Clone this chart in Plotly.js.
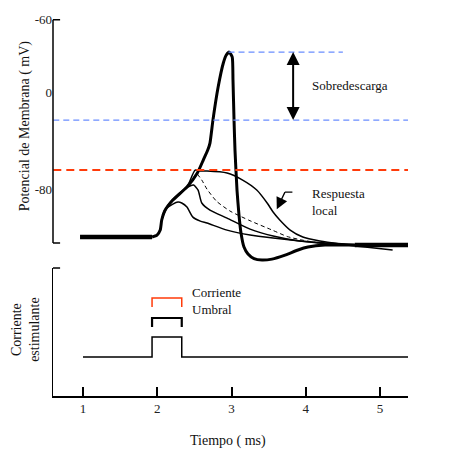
<!DOCTYPE html>
<html><head><meta charset="utf-8">
<script src="https://cdn.plot.ly/plotly-3.0.1.min.js"></script>
<style>html,body{margin:0;padding:0;background:#fff}#chart{width:473px;height:457px}</style>
</head><body><div id="chart"></div>
<script>
// ---- data (time in ms, potential in the figure's mV scale) ----
const restTime = [0.96, 1.93];
const restV = [-119.4, -119.4];
const apTime = [1.93, 1.997, 2.04, 2.06, 2.10, 2.21, 2.40, 2.54, 2.62, 2.68, 2.71, 2.75, 2.82, 2.89, 2.93, 2.97, 3.01, 3.02, 3.034, 3.047, 3.074, 3.101, 3.128, 3.168, 3.222, 3.303, 3.411, 3.545, 3.721, 3.896, 4.03, 4.259, 4.53, 4.66];
const apV = [-119.4, -117.8, -113.7, -105.4, -98.0, -89.0, -78.3, -66.7, -56.0, -47.8, -42.0, -23.1, 4.1, 23.9, 30.5, 32.9, 28.8, 9.9, -23.1, -47.8, -80.7, -101.3, -116.1, -127.7, -133.4, -137.2, -138.4, -137.6, -134.3, -130.1, -127.7, -126.0, -126.0, -126.0];
const vrepTime = [4.66, 5.38];
const vrepV = [-126.0, -126.0];
const localATime = [2.06, 2.10, 2.21, 2.28, 2.33, 2.40, 2.48, 2.58, 2.67, 2.94, 3.25, 3.56, 3.92, 4.33, 4.73];
const localAV = [-105.4, -97.2, -92.3, -90.6, -91.4, -94.7, -103.0, -106.3, -107.9, -113.7, -117.8, -120.3, -122.7, -125.2, -126.0];
const localBTime = [2.06, 2.13, 2.24, 2.35, 2.44, 2.49, 2.55, 2.60, 2.71, 2.94, 3.25, 3.56, 3.92, 4.33, 4.73];
const localBV = [-105.4, -94.7, -86.5, -80.7, -77.4, -76.6, -80.7, -91.4, -97.2, -103.8, -112.9, -118.6, -122.7, -124.4, -126.0];
const localCTime = [2.06, 2.10, 2.21, 2.40, 2.51, 2.58, 2.67, 2.94, 3.15, 3.34, 3.48, 3.56, 3.65, 3.79, 3.96, 4.19, 4.46, 4.80, 5.17];
const localCV = [-105.4, -98.0, -89.0, -78.3, -64.3, -65.1, -65.1, -66.7, -72.5, -80.7, -91.4, -98.8, -105.4, -113.7, -119.4, -122.7, -125.2, -127.7, -130.1];
const dashTime = [2.54, 2.60, 2.67, 2.80, 2.98, 3.25, 3.56, 3.75, 3.96, 4.19, 4.46];
const dashV = [-67.5, -72.5, -80.0, -90.0, -98.0, -106.0, -114.0, -119.0, -122.0, -124.4, -126.0];
const thresholdV = -64.2;
const peakV = 32.9;
const lowerBlueV = -23.1;
const stimTime = [1.0, 1.93, 1.93, 2.33, 2.33, 5.38];
const stimI = [0, 0, 1, 1, 0, 0];
const bracketTime = [1.93, 1.93, 2.33, 2.33];
const bracketBlack = [1.5, 1.95, 1.95, 1.5];
const bracketRed = [2.5, 2.95, 2.95, 2.5];
const xTicks = [1, 2, 3, 4, 5];
const yTickVals = [60, 0, -80];
const yTickText = ['-60', '0', '-80'];

const FONT = 'Liberation Serif, Times New Roman, serif';
const RED = '#ff3b0a', BLUE = '#6a8dff';

function line(x, y, w, color, dash, smooth) {
  return {x: x, y: y, type: 'scatter', mode: 'lines', xaxis: 'x2', yaxis: 'y',
    line: {color: color || '#000', width: w, dash: dash || 'solid', shape: 'spline', smoothing: smooth || 0.6},
    hoverinfo: 'skip', showlegend: false};
}
function straight(x, y, w, color, dash, xa, ya) {
  return {x: x, y: y, type: 'scatter', mode: 'lines', xaxis: xa || 'x2', yaxis: ya || 'y',
    line: {color: color || '#000', width: w, dash: dash || 'solid'}, hoverinfo: 'skip', showlegend: false};
}
const traces = [
  line(localATime, localAV, 1.5),
  line(localBTime, localBV, 1.5),
  line(localCTime, localCV, 1.5),
  line(dashTime, dashV, 1, '#000', '4px,3px'),
  straight(restTime, restV, 4.5),
  line(apTime, apV, 3, '#000', 'solid', 0.5),
  straight(vrepTime, vrepV, 4.5),
  straight([0.6, 5.40], [thresholdV, thresholdV], 2, RED, '8px,5px'),
  straight([0.6, 5.40], [lowerBlueV, lowerBlueV], 1.2, BLUE, '6px,4px'),
  straight([2.96, 4.50], [peakV, peakV], 1.2, BLUE, '6px,4px'),
  straight(stimTime, stimI, 1.5, '#000', 'solid', 'x', 'y2'),
  straight(bracketTime, bracketBlack, 2.2, '#000', 'solid', 'x', 'y2'),
  straight(bracketTime, bracketRed, 1.5, RED, 'solid', 'x', 'y2')
];

const txt = (s, x, y, opts) => Object.assign({text: s, x: x, y: y, xref: 'x2', yref: 'y', showarrow: false,
  xanchor: 'left', yanchor: 'middle', align: 'left', font: {family: FONT, size: 13, color: '#111'}}, opts || {});
const arrow = (x, y, ax, ay, size, width) => ({text: ' ', x: x, y: y, xref: 'x2', yref: 'y',
  axref: 'x2', ayref: 'y', ax: ax, ay: ay, showarrow: true, arrowhead: 2, arrowsize: size, arrowwidth: width,
  arrowcolor: '#000', borderpad: 0, borderwidth: 0, font: {size: 1}, startstandoff: 0, standoff: 0});

const layout = {
  width: 473, height: 457,
  margin: {l: 53, r: 65, t: 18, b: 61},
  paper_bgcolor: '#fff', plot_bgcolor: '#fff',
  font: {family: FONT, size: 13, color: '#111'},
  xaxis: {domain: [0, 1], anchor: 'y2', range: [0.596, 5.377], tickvals: xTicks, ticktext: xTicks.map(String),
    ticks: 'inside', ticklen: 9, tickwidth: 2, tickcolor: '#000', showline: true, linecolor: '#000', linewidth: 1.5,
    showgrid: false, zeroline: false, tickfont: {family: FONT, size: 13, color: '#222'}},
  xaxis2: {matches: 'x', anchor: 'y', visible: false, range: [0.596, 5.377]},
  yaxis: {domain: [0.348, 1], range: [-142, 61], tickvals: yTickVals, ticktext: yTickText, ticks: '',
    showline: false, showgrid: false, zeroline: false, tickfont: {family: FONT, size: 13, color: '#222'}},
  yaxis2: {domain: [0, 0.3386], anchor: 'x', range: [-1.95, 4.45], showticklabels: false, ticks: '',
    showline: true, linecolor: '#000', linewidth: 1.5, showgrid: false, zeroline: false},
  shapes: [
    {type: 'line', xref: 'x2 domain', yref: 'y', x0: 0, x1: 0, y0: -124.4, y1: 59.5, line: {color: '#000', width: 1.5}},
    {type: 'line', xref: 'x2 domain', yref: 'y', x0: 0, x1: 0.02, y0: 59.5, y1: 59.5, line: {color: '#000', width: 1.5}},
    {type: 'line', xref: 'x2 domain', yref: 'y', x0: 0, x1: 0.02, y0: -124.4, y1: -124.4, line: {color: '#000', width: 1.5}},
    {type: 'line', xref: 'x domain', yref: 'y2 domain', x0: 0, x1: 0.02, y0: 1, y1: 1, line: {color: '#000', width: 1.5}},
    {type: 'line', xref: 'x2', yref: 'y', x0: 3.72, x1: 3.82, y0: -82.4, y1: -82.4, line: {color: '#000', width: 1.2}}
  ],
  annotations: [
    txt('Sobredescarga', 4.06, 5.8),
    txt('Potencial<br>Umbral', 5.50, -66.0),
    txt('Respuesta<br>local', 4.06, -90.6),
    txt('<b>V</b><sub>rep</sub>', 5.50, -125.5, {font: {family: FONT, size: 15, color: '#111'}}),
    txt('Corriente<br>Umbral', 2.44, 2.8, {xref: 'x', yref: 'y2'}),
    arrow(3.83, peakV, 3.83, 4.9, 1.3, 2),
    arrow(3.83, lowerBlueV, 3.83, 4.9, 1.3, 2),
    arrow(3.61, -96.5, 3.72, -82.4, 1.8, 1.3),
    {text: 'Potencial de Membrana ( mV)', textangle: -90, xref: 'paper', yref: 'paper', x: -0.079, y: 0.716,
     showarrow: false, xanchor: 'center', yanchor: 'middle', font: {family: FONT, size: 14, color: '#111'}},
    {text: 'Corriente<br>estimulante', textangle: -90, xref: 'paper', yref: 'paper', x: -0.076, y: 0.175,
     showarrow: false, xanchor: 'center', yanchor: 'middle', font: {family: FONT, size: 14, color: '#111'}},
    {text: 'Tiempo ( ms)', xref: 'paper', yref: 'paper', x: 0.493, y: -0.119, showarrow: false,
     xanchor: 'center', yanchor: 'middle', font: {family: FONT, size: 14, color: '#111'}}
  ]
};
Plotly.newPlot('chart', traces, layout, {staticPlot: true, displayModeBar: false});
</script></body></html>
